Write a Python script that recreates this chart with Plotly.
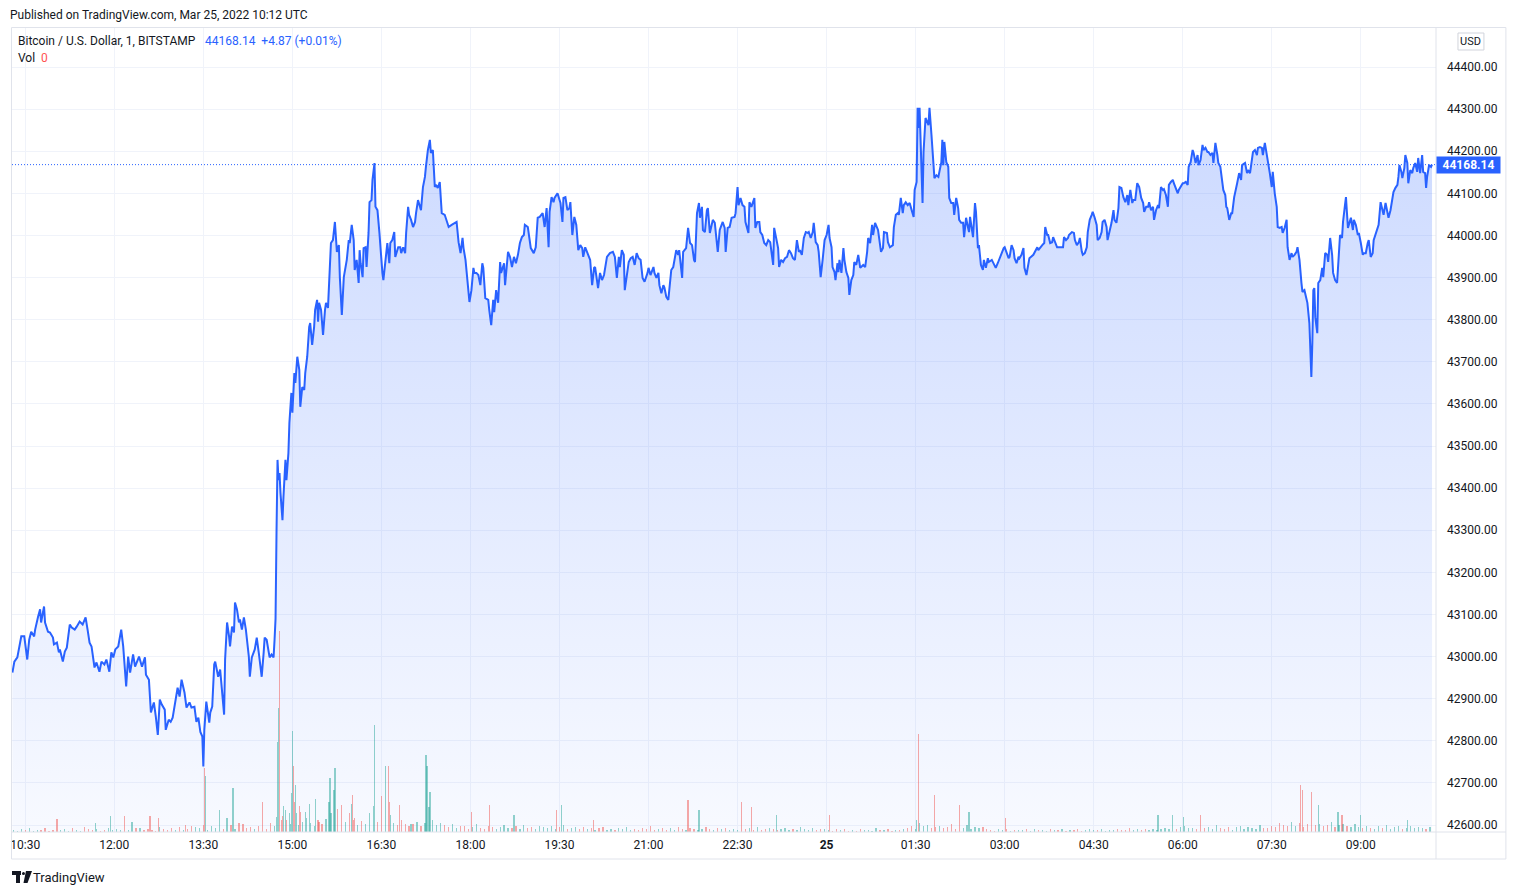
import bisect
import plotly.graph_objects as go
from datetime import datetime, timedelta

# ---------------- data ----------------
SESSION_START = datetime(2022, 3, 24, 10, 30)   # minute offsets are counted from here
LAST_PRICE = 44168.14
CHANGE_TEXT = "+4.87 (+0.01%)"
TITLE = "Bitcoin / U.S. Dollar, 1, BITSTAMP"

# (minutes after 10:30 on Mar 24, close price in USD)
PRICE_SERIES = [
    (-13, 42962), (-11, 42988), (-8, 42998), (-6, 43024), (-4, 43048), (-1, 43048), (0, 43033), (2, 42993),
    (4, 43040), (6, 43059), (9, 43048), (10, 43064), (13, 43095), (15, 43112), (16, 43081), (19, 43119),
    (20, 43081), (23, 43059), (25, 43057), (28, 43045), (29, 43029), (32, 43033), (34, 43010), (35, 43017),
    (38, 42988), (40, 43012), (42, 43021), (45, 43076), (47, 43069), (50, 43064), (52, 43071), (55, 43083),
    (58, 43076), (61, 43093), (63, 43064), (65, 43033), (67, 43024), (70, 42974), (72, 42986), (75, 42964),
    (77, 42988), (80, 42981), (82, 42993), (85, 42964), (87, 43010), (89, 42998), (91, 43017), (94, 43024),
    (97, 43064), (99, 43024), (102, 42929), (104, 43000), (106, 42962), (109, 43005), (111, 42976), (115, 43000),
    (118, 42976), (121, 42998), (122, 42957), (125, 42945), (127, 42867), (130, 42891), (132, 42857), (134, 42814),
    (136, 42898), (138, 42886), (141, 42874), (142, 42826), (145, 42850), (147, 42845), (149, 42855), (151, 42881),
    (154, 42926), (156, 42905), (158, 42945), (161, 42914), (163, 42879), (166, 42891), (168, 42879), (171, 42881),
    (173, 42845), (175, 42855), (177, 42821), (179, 42810), (180, 42739), (181, 42826), (183, 42893), (186, 42843),
    (187, 42867), (189, 42881), (191, 42981), (192, 42988), (195, 42952), (197, 42969), (199, 42905), (201, 42862),
    (202, 42993), (204, 43081), (206, 43048), (207, 43024), (209, 43071), (211, 43057), (212, 43128), (214, 43112),
    (216, 43081), (217, 43088), (219, 43064), (221, 43093), (223, 43064), (226, 43000), (227, 42952), (229, 42998),
    (232, 43017), (234, 43045), (236, 43010), (237, 42986), (239, 42952), (241, 43010), (242, 43045), (244, 43040),
    (246, 43012), (247, 42998), (249, 43005), (251, 42998), (252, 43040), (253, 43090), (254, 43300), (255, 43467),
    (256, 43419), (257, 43436), (258, 43388), (260, 43324), (261, 43379), (263, 43467), (264, 43419), (266, 43483),
    (267, 43555), (269, 43626), (270, 43579), (272, 43673), (273, 43650), (275, 43712), (277, 43681), (278, 43593),
    (280, 43640), (282, 43633), (283, 43673), (285, 43712), (287, 43783), (288, 43792), (290, 43740), (292, 43783),
    (293, 43823), (295, 43847), (296, 43795), (297, 43840), (299, 43823), (301, 43764), (303, 43823), (304, 43840),
    (306, 43828), (308, 43918), (309, 43982), (311, 43989), (313, 44032), (315, 43961), (317, 43977), (318, 43901),
    (320, 43811), (322, 43901), (323, 43918), (325, 43942), (327, 43989), (328, 43982), (330, 44025), (332, 43989),
    (333, 43918), (335, 43942), (337, 43887), (338, 43965), (339, 43934), (341, 43901), (342, 43970), (344, 43972),
    (345, 43925), (347, 44006), (348, 44079), (350, 44084), (351, 44132), (353, 44172), (354, 44068), (356, 44060),
    (358, 44006), (359, 43965), (361, 43911), (362, 43894), (364, 43934), (366, 43982), (368, 43934), (369, 43982),
    (371, 43989), (373, 44008), (374, 43949), (377, 43972), (379, 43972), (380, 43958), (382, 43972), (384, 43958),
    (385, 44006), (387, 44068), (388, 44049), (390, 44037), (392, 44020), (394, 44032), (395, 44053), (397, 44084),
    (399, 44068), (400, 44060), (402, 44115), (404, 44139), (405, 44163), (407, 44203), (409, 44227), (410, 44196),
    (412, 44203), (414, 44115), (415, 44120), (417, 44113), (419, 44127), (421, 44053), (424, 44049), (428, 44020),
    (431, 44025), (434, 44030), (436, 44032), (438, 43984), (440, 43958), (442, 43994), (443, 43970), (445, 43942),
    (447, 43899), (449, 43842), (451, 43870), (453, 43923), (454, 43911), (456, 43911), (458, 43906), (460, 43882),
    (462, 43934), (463, 43923), (465, 43851), (468, 43847), (469, 43823), (471, 43787), (473, 43847), (474, 43818),
    (476, 43870), (478, 43840), (480, 43937), (481, 43911), (484, 43934), (485, 43882), (488, 43961), (490, 43949),
    (492, 43925), (494, 43949), (496, 43934), (498, 43954), (500, 43982), (502, 43996), (504, 44001), (505, 44025),
    (508, 44020), (509, 44001), (511, 43970), (514, 43958), (516, 43972), (518, 44042), (520, 44044), (523, 44053),
    (525, 44020), (527, 44065), (529, 43972), (530, 44056), (532, 44091), (534, 44079), (535, 44089), (538, 44100),
    (539, 44091), (541, 44077), (543, 44032), (544, 44089), (546, 44091), (548, 44060), (550, 44065), (551, 44079),
    (553, 44001), (555, 44044), (557, 44025), (559, 43965), (561, 43977), (563, 43970), (564, 43949), (566, 43972),
    (569, 43954), (571, 43942), (573, 43882), (575, 43923), (576, 43925), (578, 43894), (579, 43875), (581, 43911),
    (583, 43894), (585, 43906), (588, 43949), (591, 43958), (594, 43961), (596, 43949), (598, 43899), (600, 43949),
    (601, 43925), (603, 43965), (605, 43954), (606, 43870), (608, 43911), (610, 43937), (612, 43946), (614, 43949),
    (616, 43930), (618, 43958), (620, 43946), (622, 43942), (624, 43899), (626, 43890), (629, 43911), (630, 43923),
    (632, 43906), (635, 43925), (636, 43911), (638, 43899), (640, 43911), (641, 43882), (643, 43863), (645, 43882),
    (646, 43877), (648, 43854), (650, 43847), (651, 43877), (653, 43918), (655, 43925), (656, 43942), (658, 43965),
    (660, 43954), (661, 43965), (664, 43899), (665, 43961), (668, 43970), (670, 44018), (672, 43982), (674, 43977),
    (676, 43942), (677, 43937), (679, 44053), (681, 44077), (682, 44042), (684, 44068), (685, 44013), (687, 44008),
    (689, 44060), (690, 44065), (692, 44006), (695, 44037), (697, 44030), (700, 43961), (702, 44013), (705, 44032),
    (707, 44018), (708, 43961), (710, 44018), (712, 44020), (714, 44042), (717, 44044), (718, 44053), (720, 44115),
    (721, 44072), (723, 44089), (725, 44072), (727, 44068), (728, 44032), (731, 44006), (732, 44079), (734, 44068),
    (737, 44089), (738, 44018), (740, 44032), (742, 44032), (743, 44008), (745, 44001), (747, 43982), (749, 43977),
    (751, 43989), (753, 43984), (756, 43930), (757, 44018), (759, 43994), (761, 43970), (762, 43925), (764, 43942),
    (766, 43937), (768, 43946), (770, 43949), (772, 43965), (774, 43958), (776, 43946), (778, 43942), (780, 43989),
    (782, 43961), (783, 43965), (785, 43954), (787, 43994), (789, 44008), (791, 44006), (792, 44008), (794, 43994),
    (796, 44008), (797, 44030), (799, 43984), (801, 43977), (802, 43961), (804, 43901), (806, 43942), (808, 43989),
    (810, 44001), (812, 44025), (813, 43994), (815, 43972), (816, 43925), (818, 43913), (819, 43894), (821, 43934),
    (822, 43913), (823, 43942), (825, 43911), (827, 43970), (828, 43942), (830, 43913), (832, 43899), (833, 43859),
    (835, 43894), (837, 43906), (838, 43937), (840, 43930), (842, 43954), (844, 43923), (847, 43930), (849, 43925),
    (851, 43961), (852, 43994), (854, 43982), (856, 44025), (857, 44001), (859, 44030), (862, 44013), (865, 43961),
    (867, 43970), (868, 44008), (871, 44006), (872, 43984), (874, 43972), (877, 43977), (878, 44020), (880, 44049),
    (882, 44053), (883, 44049), (885, 44089), (887, 44053), (888, 44072), (890, 44079), (892, 44072), (894, 44077),
    (896, 44060), (898, 44044), (899, 44108), (901, 44127), (902, 44303), (903, 44255), (904, 44303), (906, 44174),
    (907, 44077), (908, 44198), (910, 44279), (913, 44262), (914, 44303), (916, 44239), (918, 44148), (919, 44136),
    (921, 44143), (923, 44139), (924, 44151), (926, 44174), (927, 44227), (928, 44167), (929, 44222), (931, 44174),
    (933, 44163), (934, 44089), (936, 44077), (938, 44077), (939, 44049), (941, 44089), (943, 44065), (944, 44037),
    (946, 44030), (948, 44030), (949, 43996), (951, 44042), (953, 44018), (954, 44008), (955, 44044), (957, 44006),
    (958, 43996), (960, 44077), (961, 44056), (963, 43970), (964, 43977), (966, 43930), (968, 43918), (969, 43942),
    (971, 43923), (973, 43946), (974, 43937), (977, 43942), (979, 43934), (981, 43923), (983, 43934), (985, 43946),
    (987, 43961), (989, 43970), (990, 43972), (992, 43961), (994, 43946), (995, 43949), (997, 43977), (999, 43965),
    (1000, 43946), (1002, 43934), (1004, 43949), (1005, 43946), (1007, 43954), (1009, 43970), (1010, 43923), (1012, 43906),
    (1014, 43937), (1015, 43946), (1019, 43954), (1021, 43965), (1023, 43972), (1024, 43965), (1026, 43972), (1028, 43977),
    (1030, 43982), (1031, 44020), (1033, 44001), (1034, 44001), (1036, 43982), (1038, 43984), (1039, 43996), (1041, 43982),
    (1043, 43972), (1045, 43972), (1049, 43972), (1050, 43996), (1052, 43989), (1054, 43994), (1055, 44001), (1058, 44008),
    (1060, 44006), (1061, 43989), (1063, 43977), (1065, 43984), (1066, 43994), (1068, 43961), (1069, 43954), (1071, 43958),
    (1073, 43972), (1074, 44008), (1076, 44037), (1078, 44049), (1079, 44056), (1081, 44042), (1083, 44025), (1084, 43989),
    (1086, 43994), (1088, 44008), (1089, 44032), (1091, 44037), (1093, 44020), (1094, 43989), (1096, 44008), (1098, 44030),
    (1100, 44060), (1101, 44037), (1103, 44030), (1105, 44065), (1106, 44115), (1108, 44113), (1110, 44091), (1112, 44079),
    (1114, 44096), (1115, 44072), (1117, 44108), (1119, 44077), (1120, 44084), (1122, 44084), (1124, 44124), (1126, 44115),
    (1128, 44089), (1130, 44077), (1131, 44056), (1133, 44068), (1135, 44068), (1136, 44079), (1138, 44060), (1140, 44068),
    (1141, 44037), (1143, 44060), (1145, 44072), (1146, 44065), (1148, 44115), (1150, 44108), (1151, 44110), (1153, 44096),
    (1155, 44068), (1156, 44120), (1158, 44127), (1160, 44132), (1161, 44124), (1163, 44113), (1165, 44100), (1166, 44108),
    (1168, 44115), (1170, 44124), (1171, 44124), (1173, 44127), (1175, 44120), (1176, 44163), (1178, 44174), (1180, 44203),
    (1181, 44196), (1183, 44172), (1185, 44191), (1186, 44167), (1188, 44179), (1190, 44215), (1191, 44203), (1193, 44208),
    (1195, 44198), (1196, 44198), (1198, 44191), (1200, 44196), (1201, 44172), (1203, 44220), (1205, 44191), (1206, 44172),
    (1208, 44163), (1210, 44132), (1211, 44108), (1213, 44096), (1214, 44068), (1215, 44065), (1217, 44037), (1219, 44053),
    (1220, 44053), (1222, 44091), (1224, 44120), (1225, 44124), (1227, 44148), (1229, 44132), (1230, 44167), (1233, 44172),
    (1235, 44148), (1236, 44155), (1238, 44148), (1240, 44191), (1241, 44198), (1243, 44203), (1245, 44191), (1246, 44208),
    (1248, 44210), (1250, 44208), (1251, 44191), (1253, 44220), (1255, 44191), (1256, 44186), (1258, 44148), (1260, 44115),
    (1261, 44151), (1263, 44100), (1265, 44068), (1266, 44020), (1268, 44018), (1270, 44020), (1271, 44006), (1273, 44018),
    (1275, 44037), (1276, 43972), (1278, 43942), (1280, 43958), (1281, 43949), (1283, 43954), (1285, 43961), (1286, 43972),
    (1288, 43942), (1290, 43887), (1291, 43866), (1293, 43870), (1295, 43847), (1296, 43840), (1298, 43792), (1299, 43721),
    (1300, 43664), (1301, 43745), (1302, 43870), (1303, 43875), (1304, 43806), (1306, 43768), (1307, 43887), (1309, 43894),
    (1311, 43923), (1312, 43901), (1314, 43958), (1316, 43954), (1317, 43937), (1319, 43994), (1321, 43954), (1322, 43911),
    (1324, 43894), (1326, 43887), (1327, 43930), (1329, 44001), (1331, 43994), (1332, 44032), (1334, 44072), (1335, 44091),
    (1336, 44053), (1337, 44018), (1340, 44042), (1342, 44013), (1343, 44037), (1345, 44025), (1347, 44001), (1348, 44006),
    (1350, 43982), (1352, 43954), (1353, 43958), (1355, 43958), (1357, 43982), (1358, 43989), (1360, 43949), (1362, 43958),
    (1363, 43989), (1365, 44006), (1367, 44020), (1368, 44025), (1370, 44079), (1372, 44060), (1373, 44049), (1375, 44077),
    (1377, 44053), (1378, 44042), (1380, 44060), (1382, 44089), (1383, 44103), (1385, 44113), (1387, 44120), (1388, 44139),
    (1389, 44167), (1391, 44151), (1392, 44136), (1394, 44160), (1395, 44191), (1397, 44172), (1398, 44124), (1400, 44155),
    (1402, 44148), (1403, 44160), (1405, 44172), (1407, 44151), (1408, 44184), (1410, 44148), (1412, 44191), (1413, 44151),
    (1415, 44148), (1416, 44113), (1417, 44139), (1419, 44167), (1421, 44163), (1422, 44168.14),
]

# notable volume spikes: (minutes after 10:30, volume in BTC, "u" = up candle / "d" = down candle)
VOLUME_SPIKES = [
    (32, 6.5, "d"), (71, 4.5, "u"), (86, 8, "u"), (100, 8, "d"), (108, 5, "u"), (126, 8, "d"), (135, 7, "d"),
    (162, 3.5, "d"), (181, 32, "d"), (182, 28, "u"), (196, 11, "u"), (204, 7, "u"), (210, 22, "u"), (216, 4.5, "d"),
    (240, 15, "d"), (254, 7.5, "u"), (255, 45, "u"), (256, 62, "u"), (257, 100.5, "d"), (259, 6, "d"), (261, 13, "u"),
    (263, 11, "u"), (267, 9.5, "u"), (269, 19.5, "u"), (270, 50.5, "u"), (271, 33, "d"), (272, 15, "d"), (273, 23.5, "u"),
    (274, 9.5, "u"), (277, 13, "d"), (278, 10, "d"), (283, 10, "u"), (287, 14, "u"), (293, 16.5, "u"), (297, 5, "d"),
    (307, 15, "u"), (308, 27, "u"), (309, 9.5, "u"), (312, 21, "u"), (313, 32, "u"), (316, 11.5, "d"), (320, 13.5, "d"),
    (328, 9.5, "d"), (330, 14, "u"), (331, 18.5, "d"), (333, 7, "d"), (348, 9.5, "u"), (352, 13, "u"), (353, 53.5, "u"),
    (360, 18, "d"), (364, 33, "u"), (367, 33, "d"), (368, 15, "d"), (369, 8.5, "u"), (378, 13.5, "d"), (390, 4, "u"),
    (405, 38.5, "u"), (406, 33, "u"), (408, 12.5, "u"), (409, 20, "u"), (451, 10, "d"), (469, 13.5, "d"), (494, 8.5, "u"),
    (537, 11, "d"), (542, 13.5, "u"), (574, 6, "d"), (670, 16, "d"), (681, 11, "u"), (724, 15, "d"), (734, 12.5, "d"),
    (759, 8.5, "u"), (813, 8.5, "d"), (901, 6, "u"), (903, 49, "d"), (919, 18.5, "d"), (944, 13.5, "d"), (954, 10, "u"),
    (991, 7, "d"), (1145, 8.5, "u"), (1160, 8.5, "u"), (1171, 7.5, "u"), (1188, 8.5, "d"), (1289, 23.5, "d"),
    (1291, 21, "d"), (1300, 20, "d"), (1307, 13.5, "u"), (1327, 10, "u"), (1331, 8.5, "d"), (1350, 8.5, "u"),
    (1397, 6, "u"),
]

# background volume, one reading every 4 minutes starting at minute -12 (BTC)
SMALL_VOLUME_START = -12
SMALL_VOLUME_STEP = 4
SMALL_VOLUME = [
    1.0, 0.5, 1.5, 0.8, 2.0, 0.6, 1.2, 0.9, 1.8, 0.7, 1.1, 2.4, 0.8, 1.5, 0.6, 1.9, 1.0, 0.7, 2.6, 1.3,
    0.9, 1.6, 0.5, 1.2, 2.1, 0.8, 1.4, 1.0, 3.0, 1.1, 0.7, 1.8, 2.2, 0.9, 1.5, 1.2, 0.6, 2.7, 1.4, 1.0,
    1.9, 0.8, 2.3, 1.1, 1.6, 3.2,
    2.5, 1.8, 3.4, 1.2, 2.9, 2.0, 4.1, 1.6, 2.7, 3.3, 1.4, 2.2, 3.8, 1.9, 2.6, 1.3, 3.1, 2.4, 1.7, 4.4, 3.0,
    5.5, 8.0, 6.2, 4.1, 7.5, 3.6, 5.0, 6.8, 4.4, 3.2, 5.9, 4.0, 6.6, 3.4, 4.8, 7.2, 3.9, 5.2, 4.5, 6.0,
    3.7, 5.6, 4.2, 3.1, 6.4, 4.9, 3.5, 5.3, 2.8, 4.6, 3.3, 5.8, 4.1, 2.9, 3.8, 5.1, 3.0, 4.3, 2.6, 6.1, 3.6, 4.7,
    3.5, 2.4, 4.0, 1.9, 2.8, 3.2, 1.6, 2.5, 3.9, 2.1, 1.7, 3.0, 2.3, 1.5, 2.7, 3.4, 1.8, 2.2, 2.9, 1.4,
    3.6, 2.0, 2.6, 1.6, 3.1, 2.4, 1.9, 2.8, 1.3, 2.5, 3.3, 1.7, 2.1, 2.7, 1.5, 2.3,
    1.5, 2.2, 1.0, 1.8, 2.6, 1.2, 1.6, 0.9, 2.0, 1.4, 2.4, 1.1, 1.7, 0.8, 1.9, 1.3, 2.8, 1.0, 1.5, 2.1,
    1.2, 1.8, 0.9, 2.3, 1.6, 1.1, 2.0, 1.4, 0.8, 1.7, 2.5, 1.3, 1.0, 1.9, 1.5, 2.2, 1.1, 1.6, 0.9, 2.0,
    1.4, 1.8, 1.2, 2.6, 1.0, 1.5, 1.9, 1.3, 0.8, 1.7, 2.1, 1.2, 1.6, 1.0, 2.4, 1.4, 1.1, 1.8, 0.9, 1.5, 1.3,
    1.0, 0.6, 1.3, 0.8, 1.6, 0.7, 1.1, 0.5, 1.4, 0.9, 1.2, 0.6, 1.8, 0.8, 1.0, 1.5, 0.7, 1.2, 0.9, 1.6,
    2.2, 3.0, 1.6, 4.5, 2.8, 3.6, 2.0, 2.6, 3.2, 1.8, 2.4, 3.8, 1.5, 2.9, 2.1, 3.3, 1.7, 2.5, 1.9, 2.7, 1.4,
    1.1, 0.7, 1.4, 0.9, 1.6, 0.6, 1.2, 1.0, 0.8, 1.5, 0.7, 1.3, 0.9, 1.1, 0.6, 1.7, 1.0, 0.8, 1.4, 0.7,
    1.2, 0.9, 1.5, 0.6, 1.1, 1.3, 0.8, 1.0, 1.6, 0.7, 1.2, 0.9, 1.4, 1.1, 0.8, 1.8, 1.0, 1.3, 0.9, 1.5,
    1.2, 1.7, 1.0, 1.4,
    2.0, 1.6, 2.8, 1.3, 2.4, 3.1, 1.8, 2.2, 1.5, 2.9, 1.9, 2.5, 1.4, 3.3, 2.1, 1.7, 2.6, 1.2, 2.3, 3.0,
    1.6, 2.7, 2.0, 1.5, 3.4, 2.2, 1.8,
    3.2, 2.5, 4.4, 3.6, 2.8, 5.0, 3.1, 4.6, 2.7, 3.9, 5.4, 3.3, 4.1, 2.9, 3.7, 4.8, 2.6, 3.5, 4.2, 3.0, 2.4, 3.8,
    2.6, 1.9, 3.0, 2.2, 1.6, 2.8, 2.0, 3.3, 1.7, 2.4, 2.9, 1.5, 2.1, 3.1, 1.8, 2.5, 2.0, 1.4, 2.3,
]

TICK_MINUTES = [0, 90, 180, 270, 360, 450, 540, 630, 720, 810, 900, 990, 1080, 1170, 1260, 1350]
TICK_LABELS = ["10:30", "12:00", "13:30", "15:00", "16:30", "18:00", "19:30", "21:00", "22:30",
               "<b>25</b>", "01:30", "03:00", "04:30", "06:00", "07:30", "09:00"]
PRICE_TICKS = [42600 + 100 * i for i in range(19)]

# ---------------- styling ----------------
BLUE = "#2962FF"
TEXT = "#131722"
GRID = "#f0f3fa"
BORDER = "#e0e3eb"
UP_VOL = "rgba(38,166,154,0.5)"
DOWN_VOL = "rgba(239,83,80,0.5)"
FONT = "Roboto, 'Open Sans', sans-serif"

W, H = 1516, 895
L, R, T, B = 10, 80, 28, 63
PW, PH = W - L - R, H - T - B


def px(xp):
    return (xp - L) / PW


def py(yp):
    return (H - B - yp) / PH


def t(m):
    return SESSION_START + timedelta(minutes=m)


price_min = [m for m, _ in PRICE_SERIES]
prices = [p for _, p in PRICE_SERIES]
times = [t(m) for m in price_min]


def candle_dir(m):
    i = bisect.bisect_right(price_min, m) - 1
    i = max(1, min(i, len(prices) - 1))
    return "u" if prices[i] >= prices[i - 1] else "d"


vol_x, vol_y, vol_c = [], [], []
spike_minutes = {m for m, _, _ in VOLUME_SPIKES}
for k, v in enumerate(SMALL_VOLUME):
    m = SMALL_VOLUME_START + k * SMALL_VOLUME_STEP
    if m in spike_minutes:
        continue
    vol_x.append(t(m))
    vol_y.append(v)
    vol_c.append(UP_VOL if candle_dir(m) == "u" else DOWN_VOL)
for m, v, d in VOLUME_SPIKES:
    vol_x.append(t(m))
    vol_y.append(v)
    vol_c.append(UP_VOL if d == "u" else DOWN_VOL)

fig = go.Figure()

fig.add_trace(go.Scatter(
    x=times, y=prices, mode="lines",
    line=dict(color=BLUE, width=2),
    fill="tozeroy",
    fillgradient=dict(type="vertical",
                      colorscale=[[0, "rgba(41,98,255,0.035)"], [1, "rgba(41,98,255,0.24)"]],
                      start=42583, stop=max(prices)),
    hoverinfo="skip", showlegend=False,
))

fig.add_trace(go.Bar(
    x=vol_x, y=vol_y,
    marker=dict(color=vol_c, line=dict(width=0)),
    width=75000, yaxis="y2", showlegend=False, hoverinfo="skip",
))

y_lo = 42600 - 7 / 0.42111
y_hi = 44400 + 39 / 0.42111

fig.update_layout(
    width=W, height=H,
    margin=dict(l=L, r=R, t=T, b=B),
    paper_bgcolor="white", plot_bgcolor="white",
    font=dict(family=FONT, size=12, color=TEXT),
    bargap=0,
    xaxis=dict(
        range=[t(-13.4), t(1426)], tickvals=[t(m) for m in TICK_MINUTES], ticktext=TICK_LABELS,
        showgrid=True, gridcolor=GRID, gridwidth=1, zeroline=False, showline=False,
        ticks="", ticklabelstandoff=4, tickfont=dict(size=12, color=TEXT), fixedrange=True,
    ),
    yaxis=dict(
        range=[y_lo, y_hi], side="right", tickvals=PRICE_TICKS, tickformat=".2f",
        showgrid=True, gridcolor=GRID, gridwidth=1, zeroline=False, showline=False,
        ticks="", ticklabelstandoff=10, tickfont=dict(size=12, color=TEXT),
    ),
    yaxis2=dict(range=[0, 402], overlaying="y", visible=False, showgrid=False),
    shapes=[
        # chart frame
        dict(type="rect", xref="paper", yref="paper", x0=px(9.5), x1=px(1506), y0=py(859), y1=py(27.5),
             line=dict(color=BORDER, width=1), layer="above"),
        dict(type="line", xref="paper", yref="paper", x0=px(1436), x1=px(1436), y0=py(859), y1=py(27.5),
             line=dict(color=BORDER, width=1)),
        dict(type="line", xref="paper", yref="paper", x0=px(9.5), x1=px(1506), y0=py(832), y1=py(832),
             line=dict(color=BORDER, width=1)),
        # last price dotted line
        dict(type="line", xref="paper", yref="y", x0=0, x1=1, y0=LAST_PRICE, y1=LAST_PRICE,
             line=dict(color=BLUE, width=1, dash="1px,2px")),
        # USD box
        dict(type="rect", xref="paper", yref="paper", x0=px(1458), x1=px(1484), y0=py(50), y1=py(33),
             line=dict(color="#d1d4dc", width=1), fillcolor="white"),
        # TradingView logo
        dict(type="rect", xref="paper", yref="paper", x0=px(10), x1=px(19), y0=py(875), y1=py(871),
             fillcolor="#131722", line=dict(width=0)),
        dict(type="rect", xref="paper", yref="paper", x0=px(14), x1=px(18), y0=py(883), y1=py(871),
             fillcolor="#131722", line=dict(width=0)),
        dict(type="circle", xref="paper", yref="paper", x0=px(20), x1=px(23), y0=py(875), y1=py(872),
             fillcolor="#131722", line=dict(width=0)),
        dict(type="path", xref="paper", yref="paper",
             path=f"M {px(24)} {py(871)} L {px(30)} {py(871)} L {px(25.5)} {py(883)} L {px(21.5)} {py(883)} Z",
             fillcolor="#131722", line=dict(width=0)),
    ],
    annotations=[
        dict(xref="paper", yref="paper", x=px(5.5), y=py(15), xanchor="left", yanchor="middle", showarrow=False,
             text="Published on TradingView.com, Mar 25, 2022 10:12 UTC", font=dict(size=12, color=TEXT)),
        dict(xref="paper", yref="paper", x=px(14.5), y=py(41), xanchor="left", yanchor="middle", showarrow=False,
             text=TITLE, font=dict(size=12, color=TEXT)),
        dict(xref="paper", yref="paper", x=px(201), y=py(41), xanchor="left", yanchor="middle", showarrow=False,
             text=f"{LAST_PRICE:.2f}&nbsp;&nbsp;{CHANGE_TEXT}", font=dict(size=12, color=BLUE)),
        dict(xref="paper", yref="paper", x=px(14.5), y=py(58), xanchor="left", yanchor="middle", showarrow=False,
             text="Vol", font=dict(size=12, color=TEXT)),
        dict(xref="paper", yref="paper", x=px(37), y=py(58), xanchor="left", yanchor="middle", showarrow=False,
             text="0", font=dict(size=12, color="#FF5252")),
        dict(xref="paper", yref="paper", x=px(1471), y=py(42), xanchor="center", yanchor="middle", showarrow=False,
             text="USD", font=dict(size=11, color=TEXT)),
        dict(xref="paper", yref="y", x=px(1436), y=LAST_PRICE, xanchor="left", yanchor="middle", showarrow=False,
             text=f"<b>{LAST_PRICE:.2f}</b>", font=dict(size=12, color="white"),
             bgcolor=BLUE, width=60, height=13, borderpad=1.5, align="center"),
        dict(xref="paper", yref="paper", x=px(29), y=py(877), xanchor="left", yanchor="middle", showarrow=False,
             text="TradingView", font=dict(size=13, color=TEXT)),
    ],
)

fig.write_html("out.html")
